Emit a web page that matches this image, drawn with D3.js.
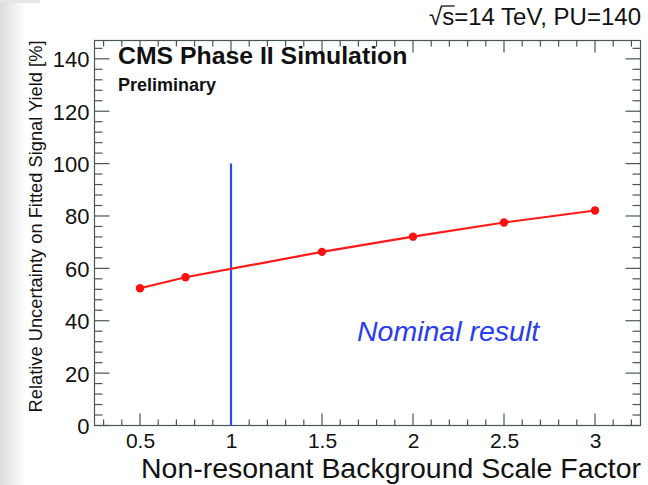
<!DOCTYPE html>
<html>
<head>
<meta charset="utf-8">
<script src="https://cdn.jsdelivr.net/npm/d3@7"></script>
<style>
  html, body { margin: 0; padding: 0; background: #fff; }
  svg { display: block; font-family: "Liberation Sans", Arial, Helvetica, sans-serif; }
</style>
</head>
<body>
<svg id="chart" width="648" height="485"></svg>
<script>
// Scan points: background scale factor vs. relative uncertainty (%)
const scaleFactors = [0.5, 0.75, 1.5, 2, 2.5, 3];
const uncertainty = [52.4, 56.6, 66.3, 72.1, 77.5, 82.1];
const nominalFactor = 1;
const nominalLineTop = 100;
const xTickLabels = ["0.5", "1", "1.5", "2", "2.5", "3"];
const yTickLabels = ["0", "20", "40", "60", "80", "100", "120", "140"];

const svg = d3.select("#chart");
const W = 648, H = 485;
const m = { left: 94.5, right: 640.5, top: 40.5, bottom: 425.5 };

// faint grey edge on the left of the canvas
const defs = svg.append("defs");
const g1 = defs.append("linearGradient").attr("id", "edgeL").attr("x1", 0).attr("x2", 1).attr("y1", 0).attr("y2", 0);
g1.append("stop").attr("offset", 0).attr("stop-color", "#dcdcdc");
g1.append("stop").attr("offset", 1).attr("stop-color", "#ffffff");
svg.append("rect").attr("width", W).attr("height", H).attr("fill", "#fff");
svg.append("rect").attr("x", 0).attr("y", 0).attr("width", 26).attr("height", H).attr("fill", "url(#edgeL)");
svg.append("rect").attr("x", 0).attr("y", 0).attr("width", 40).attr("height", 3).attr("fill", "#e6e6e6");

const x = d3.scaleLinear().domain([0.25, 3.25]).range([m.left, m.right]);
const y = d3.scaleLinear().domain([0, 147]).range([m.bottom, m.top]);

const axisColor = "#4a5656";

// frame
svg.append("rect")
  .attr("x", m.left).attr("y", m.top)
  .attr("width", m.right - m.left).attr("height", m.bottom - m.top)
  .attr("fill", "none").attr("stroke", axisColor).attr("stroke-width", 1.2);

// x tick labels
const xMajor = xTickLabels.map(Number);
const xMinor = d3.range(3, 33).map(i => i / 10).filter(v => !xMajor.some(t => Math.abs(t - v) < 1e-6));
const xAxisB = d3.axisBottom(x).tickValues(xMajor).tickSize(0).tickPadding(0).tickFormat((d, i) => xTickLabels[i]);
const gx = svg.append("g").attr("transform", `translate(0,${m.bottom})`).call(xAxisB);
gx.select(".domain").remove();
gx.selectAll("text").attr("dy", 0).attr("y", 22).attr("font-size", 21).attr("fill", "#111")
  .attr("font-family", "Liberation Sans, Arial, sans-serif");

// tick marks on all four sides
function tickLines(vals, len, isX) {
  vals.forEach(v => {
    if (isX) {
      const px = x(v);
      svg.append("line").attr("x1", px).attr("x2", px).attr("y1", m.bottom).attr("y2", m.bottom - len)
        .attr("stroke", axisColor).attr("stroke-width", 1.2);
      svg.append("line").attr("x1", px).attr("x2", px).attr("y1", m.top).attr("y2", m.top + len)
        .attr("stroke", axisColor).attr("stroke-width", 1.2);
    } else {
      const py = y(v);
      svg.append("line").attr("x1", m.left).attr("x2", m.left + len).attr("y1", py).attr("y2", py)
        .attr("stroke", axisColor).attr("stroke-width", 1.2);
      svg.append("line").attr("x1", m.right).attr("x2", m.right - len).attr("y1", py).attr("y2", py)
        .attr("stroke", axisColor).attr("stroke-width", 1.2);
    }
  });
}
tickLines(xMajor, 12, true);
tickLines(xMinor, 6, true);

const yMajor = yTickLabels.map(Number);
const yMinor = d3.range(4, 147, 4).filter(v => v % 20 !== 0);
tickLines(yMajor, 15, false);
tickLines(yMinor, 8, false);
const yAxisL = d3.axisLeft(y).tickValues(yMajor).tickSize(0).tickPadding(0).tickFormat((d, i) => yTickLabels[i]);
const gy = svg.append("g").attr("transform", `translate(${m.left},0)`).call(yAxisL);
gy.select(".domain").remove();
gy.selectAll("text").attr("x", -5).attr("dy", "0.36em").attr("font-size", 22).attr("fill", "#111")
  .attr("font-family", "Liberation Sans, Arial, sans-serif");

// axis titles
svg.append("text").attr("x", 641).attr("y", 477.5).attr("text-anchor", "end")
  .attr("font-size", 28).attr("fill", "#111")
  .attr("textLength", 500).attr("lengthAdjust", "spacingAndGlyphs")
  .text("Non-resonant Background Scale Factor");
svg.append("text").attr("transform", `translate(42,${m.top}) rotate(-90)`).attr("text-anchor", "end")
  .attr("font-size", 18.3).attr("fill", "#111").text("Relative Uncertainty on Fitted Signal Yield [%]");

// nominal marker
svg.append("line").attr("x1", x(nominalFactor)).attr("x2", x(nominalFactor))
  .attr("y1", y(0)).attr("y2", y(nominalLineTop))
  .attr("stroke", "#2a4cf0").attr("stroke-width", 2.2);

// scan curve
const pts = scaleFactors.map((f, i) => [f, uncertainty[i]]);
svg.append("path").datum(pts)
  .attr("d", d3.line().x(d => x(d[0])).y(d => y(d[1])))
  .attr("fill", "none").attr("stroke", "#ff1a1a").attr("stroke-width", 2.2);
svg.selectAll("circle.pt").data(pts).enter().append("circle").attr("class", "pt")
  .attr("cx", d => x(d[0])).attr("cy", d => y(d[1])).attr("r", 4.2).attr("fill", "#ff1010");

// labels
svg.append("text").attr("x", 118).attr("y", 64).attr("font-size", 24.8).attr("font-weight", "bold")
  .attr("fill", "#111").text("CMS Phase II Simulation");
svg.append("text").attr("x", 118).attr("y", 91).attr("font-size", 18).attr("font-weight", "bold")
  .attr("fill", "#111").text("Preliminary");

// centre-of-mass label, with an overbar on the radicand
const energy = svg.append("text").attr("x", 641).attr("y", 25).attr("text-anchor", "end")
  .attr("font-size", 24).attr("fill", "#111");
energy.append("tspan").text("\u221As");
energy.append("tspan").text("=14 TeV, PU=140");
const eb = energy.node().getBBox();
const sqrtW = energy.select("tspan").node().getComputedTextLength();
const rad = energy.node().getSubStringLength(0, 1);
svg.append("line").attr("x1", eb.x + rad - 1).attr("x2", eb.x + sqrtW + 0.5)
  .attr("y1", 25 - 19).attr("y2", 25 - 19).attr("stroke", "#111").attr("stroke-width", 1.3);

svg.append("text").attr("x", 357).attr("y", 341).attr("font-size", 28.5).attr("font-style", "italic")
  .attr("fill", "#2a3cf0").text("Nominal result");
</script>
</body>
</html>
